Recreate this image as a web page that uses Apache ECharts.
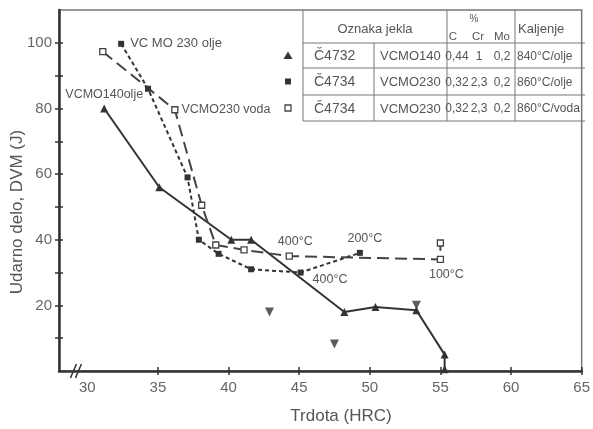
<!DOCTYPE html>
<html>
<head>
<meta charset="utf-8">
<script src="https://cdn.jsdelivr.net/npm/echarts@6/dist/echarts.min.js"></script>
<style>
  html, body { margin: 0; padding: 0; background: #fff; }
  #chart { width: 593px; height: 429px; }
</style>
</head>
<body>
<div id="chart"></div>
<script>
// Impact energy (DVM, J) versus hardness (HRC) for three tempered steels.

// VCMO140, quenched 840 °C / oil (filled triangles, solid line)
const hardnessVCMO140 = [31.2, 35.1, 40.2, 41.6, 48.2, 50.4, 53.3, 55.3, 55.3];
const impactVCMO140 = [80, 56, 40, 40, 18, 19.5, 18.5, 5, 0.5];

// VCMO230, quenched 860 °C / oil (filled squares, short dashes)
const hardnessVCMO230oil = [32.4, 34.3, 37.1, 37.9, 39.3, 41.6, 45.1, 49.3];
const impactVCMO230oil = [99.7, 86, 59, 40, 35.7, 31, 30, 36];

// VCMO230, quenched 860 °C / water (open squares, long dashes)
const hardnessVCMO230water = [31.1, 36.2, 38.1, 39.1, 41.1, 44.3, 55, 55];
const impactVCMO230water = [97.3, 79.6, 50.5, 38.4, 36.9, 35, 34, 39];

// single measurements (inverted triangles)
const hardnessSingle = [42.9, 47.5, 53.3];
const impactSingle = [18, 8.2, 20];

// curve and tempering-temperature annotations
const curveNames = ['VCMO140olje', 'VC MO 230 olje', 'VCMO230 voda'];
const temperLabels = ['400°C', '200°C', '400°C', '100°C'];

// axis ticks
const xTickValues = [35, 40, 45, 50, 55, 60, 65];
const xLabelValues = [30, 35, 40, 45, 50, 55, 60, 65];
const yTickValues = [10, 20, 30, 40, 50, 60, 70, 80, 90, 100];
const yLabelValues = [20, 40, 60, 80, 100];

// table of steels
const tableHeader = ['Oznaka jekla', '%', 'C', 'Cr', 'Mo', 'Kaljenje'];
const steelCodes = ['Č4732', 'Č4734', 'Č4734'];
const steelNames = ['VCMO140', 'VCMO230', 'VCMO230'];
const carbon = ['0,44', '0,32', '0,32'];
const chromium = ['1', '2,3', '2,3'];
const molybdenum = ['0,2', '0,2', '0,2'];
const hardening = ['840°C/olje', '860°C/olje', '860°C/voda'];

const FONT = 'Liberation Sans';
const INK = '#333';
const TXT = '#555';

function points(xs, ys, labels) {
  return xs.map((x, i) => {
    const item = { value: [x, ys[i]] };
    if (labels && labels[i]) item.label = labels[i];
    return item;
  });
}

const lblBase = { show: true, color: TXT, fontFamily: FONT, fontSize: 12.5 };

const labels140 = { 0: Object.assign({}, lblBase, { formatter: curveNames[0], position: 'top', distance: 3 }) };
const labels230oil = {
  0: Object.assign({}, lblBase, { formatter: curveNames[1], position: 'right', distance: 6, fontSize: 13 }),
  6: Object.assign({}, lblBase, { formatter: temperLabels[2], position: [15, 4] }),
  7: Object.assign({}, lblBase, { formatter: temperLabels[1], position: 'top', distance: 5, offset: [5, 0] })
};
const labels230water = {
  1: Object.assign({}, lblBase, { formatter: curveNames[2], position: 'right', distance: 3 }),
  5: Object.assign({}, lblBase, { formatter: temperLabels[0], position: 'top', distance: 4, offset: [6, 0] }),
  6: Object.assign({}, lblBase, { formatter: temperLabels[3], position: 'bottom', distance: 5, offset: [6, 0] })
};

const axisLineStyle = { color: INK, width: 2.5 };
const tickStyle = { color: INK, width: 1.5 };

const chart = echarts.init(document.getElementById('chart'), null, { renderer: 'canvas' });

const option = {
  animation: false,
  backgroundColor: '#fff',
  grid: { left: 59, right: 8, top: 10, bottom: 58, show: true, borderColor: '#777', borderWidth: 1.5, backgroundColor: 'transparent' },
  xAxis: [
    {
      type: 'value', min: 28, max: 65,
      axisLine: { lineStyle: axisLineStyle },
      axisTick: { customValues: xTickValues, length: 4, lineStyle: tickStyle },
      axisLabel: { customValues: xLabelValues, color: '#666', fontFamily: FONT, fontSize: 15, margin: 9 },
      splitLine: { show: false }
    },
    {
      type: 'value', min: 28, max: 65, position: 'bottom',
      axisLine: { show: false },
      axisTick: { customValues: xTickValues, inside: true, length: 4, lineStyle: tickStyle },
      axisLabel: { show: false },
      splitLine: { show: false }
    }
  ],
  yAxis: [
    {
      type: 'value', min: 0, max: 110,
      axisLine: { lineStyle: axisLineStyle },
      axisTick: { customValues: yTickValues, length: 4, lineStyle: tickStyle },
      axisLabel: { customValues: yLabelValues, color: '#666', fontFamily: FONT, fontSize: 15, margin: 7 },
      splitLine: { show: false }
    },
    {
      type: 'value', min: 0, max: 110, position: 'left',
      axisLine: { show: false },
      axisTick: { customValues: yTickValues, inside: true, length: 4, lineStyle: tickStyle },
      axisLabel: { show: false },
      splitLine: { show: false }
    }
  ],
  series: [
    {
      name: 'VCMO140 olje', type: 'line',
      data: points(hardnessVCMO140, impactVCMO140, labels140),
      symbol: 'triangle', symbolSize: 8,
      itemStyle: { color: INK },
      lineStyle: { color: INK, width: 2 }
    },
    {
      name: 'VCMO230 olje', type: 'line',
      data: points(hardnessVCMO230oil, impactVCMO230oil, labels230oil),
      symbol: 'rect', symbolSize: 6,
      itemStyle: { color: INK },
      lineStyle: { color: INK, width: 2, type: [4, 3] }
    },
    {
      name: 'VCMO230 voda', type: 'line',
      data: points(hardnessVCMO230water, impactVCMO230water, labels230water),
      symbol: 'rect', symbolSize: 6,
      itemStyle: { color: '#fff', borderColor: '#444', borderWidth: 1.3 },
      lineStyle: { color: '#444', width: 2, type: [12, 6] },
      z: 3
    },
    {
      name: 'single', type: 'scatter',
      data: points(hardnessSingle, impactSingle),
      symbol: 'triangle', symbolRotate: 180, symbolSize: 9,
      itemStyle: { color: INK }
    }
  ]
};

chart.setOption(option);

// table, legend symbols, axis titles and axis break
const colX = [303, 374, 447, 515, 585];
const rowY = [10, 43, 68, 95, 121];
const tableLine = { stroke: '#777', lineWidth: 1 };
const g = [];
function hline(y, x1, x2) { g.push({ type: 'line', shape: { x1: x1, y1: y, x2: x2, y2: y }, style: tableLine, silent: true }); }
function vline(x, y1, y2) { g.push({ type: 'line', shape: { x1: x, y1: y1, x2: x, y2: y2 }, style: tableLine, silent: true }); }
function txt(x, y, s, align, size) {
  g.push({ type: 'text', x: x, y: y, silent: true,
    style: { text: s, fill: TXT, font: (size || 12.5) + 'px "' + FONT + '"', align: align || 'left', verticalAlign: 'middle' } });
}

for (let r = 1; r < rowY.length; r++) hline(rowY[r], colX[0], colX[4]);
vline(colX[0], rowY[0], rowY[4]);
vline(colX[1], rowY[1], rowY[4]);
vline(colX[2], rowY[0], rowY[4]);
vline(colX[3], rowY[0], rowY[4]);

txt((colX[0] + colX[2]) / 2, 29, tableHeader[0], 'center', 13);
txt(474, 19, tableHeader[1], 'center', 10);
txt(453, 37, tableHeader[2], 'center', 11.5);
txt(478, 37, tableHeader[3], 'center', 11.5);
txt(502, 37, tableHeader[4], 'center', 11.5);
txt(518, 29, tableHeader[5], 'left', 13);

for (let i = 0; i < 3; i++) {
  const cy = (rowY[i + 1] + rowY[i + 2]) / 2 + 1;
  txt(314, cy, steelCodes[i], 'left', 14);
  txt(380, cy, steelNames[i], 'left', 13);
  txt(457, cy, carbon[i], 'center', 12);
  txt(479, cy, chromium[i], 'center', 12);
  txt(502, cy, molybdenum[i], 'center', 12);
  txt(517, cy, hardening[i], 'left', 12);
}

// legend symbols beside the table rows
const legendRowY = [(rowY[1] + rowY[2]) / 2, (rowY[2] + rowY[3]) / 2, (rowY[3] + rowY[4]) / 2];
g.push({ type: 'polygon', shape: { points: [[288, legendRowY[0] - 4], [292.5, legendRowY[0] + 3.5], [283.5, legendRowY[0] + 3.5]] }, style: { fill: INK }, silent: true });
g.push({ type: 'rect', shape: { x: 285, y: legendRowY[1] - 3, width: 6, height: 6 }, style: { fill: INK }, silent: true });
g.push({ type: 'rect', shape: { x: 285, y: legendRowY[2] - 3, width: 6, height: 6 }, style: { fill: '#fff', stroke: '#444', lineWidth: 1.3 }, silent: true });

// axis titles
g.push({ type: 'text', x: 341, y: 416, silent: true,
  style: { text: 'Trdota (HRC)', fill: TXT, font: '17px "' + FONT + '"', align: 'center', verticalAlign: 'middle' } });
g.push({ type: 'text', x: 17, y: 212, rotation: Math.PI / 2, silent: true,
  style: { text: 'Udarno delo, DVM (J)', fill: TXT, font: '17px "' + FONT + '"', align: 'center', verticalAlign: 'middle' } });

// break marks on the hardness axis
const bp = chart.convertToPixel({ xAxisIndex: 0, yAxisIndex: 0 }, [29.2, 0]);
[-2.5, 2.5].forEach(function (dx) {
  g.push({ type: 'line', shape: { x1: bp[0] + dx - 3, y1: bp[1] + 7, x2: bp[0] + dx + 3, y2: bp[1] - 7 },
    style: { stroke: INK, lineWidth: 1.5 }, silent: true });
});

chart.setOption({ graphic: g });
</script>
</body>
</html>
